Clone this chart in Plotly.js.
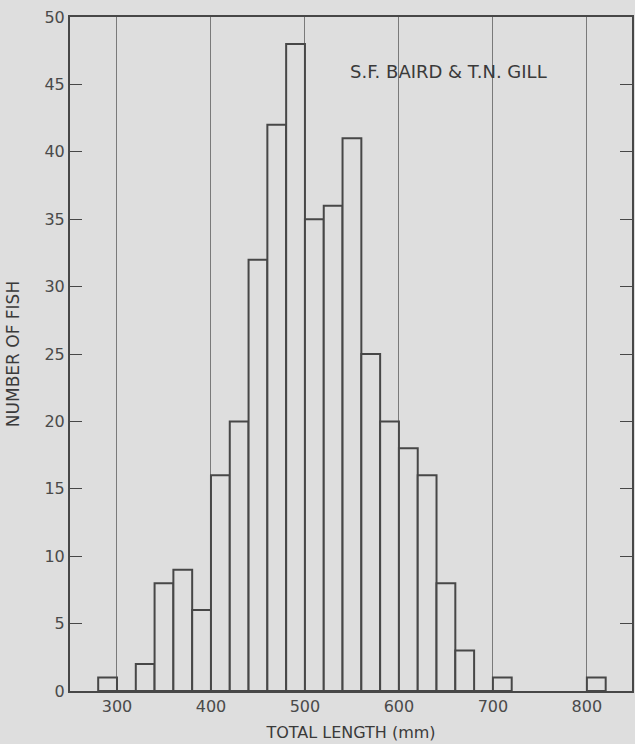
<!DOCTYPE html>
<html>
<head>
<meta charset="utf-8">
<script src="https://cdn.plot.ly/plotly-3.0.1.min.js"></script>
<style>html,body{margin:0;padding:0;background:#dedede;}#chart{width:635px;height:744px;}</style>
</head>
<body>
<div id="chart"></div>
<script>
// Bin starts (mm) and counts, bins 20 mm wide
const binStart = [280, 300, 320, 340, 360, 380, 400, 420, 440, 460, 480, 500, 520, 540, 560, 580, 600, 620, 640, 660, 680, 700, 800];
const counts   = [1,   0,   2,   8,   9,   6,   16,  20,  32,  42,  48,  35,  36,  41,  25,  20,  18,  16,  8,   3,   0,   1,   1];
const binWidth = 20;
const xTicks = [300, 400, 500, 600, 700, 800];
const yTicks = [0, 5, 10, 15, 20, 25, 30, 35, 40, 45, 50];
const label = "S.F. BAIRD & T.N. GILL";

const bg = '#dedede';
const ink = '#474747';
const font = 'DejaVu Sans, sans-serif';

const trace = {
  type: 'bar',
  x: binStart,
  y: counts,
  width: binWidth,
  offset: 0,
  marker: {color: bg, line: {color: ink, width: 2}},
  hoverinfo: 'skip'
};

const layout = {
  width: 635, height: 744,
  margin: {l: 70, r: 3, t: 17, b: 53},
  paper_bgcolor: bg,
  plot_bgcolor: bg,
  showlegend: false,
  font: {family: font, color: '#4a4a4a', size: 14},
  xaxis: {
    range: [250, 848],
    tickvals: xTicks,
    ticks: '',
    showgrid: true, gridcolor: '#7a7a7a', gridwidth: 1,
    zeroline: false,
    showline: true, linecolor: ink, linewidth: 2, mirror: true,
    tickfont: {size: 16, family: font, color: '#4a4a4a'},
    title: {text: 'TOTAL LENGTH (mm)', font: {size: 16, family: font, color: '#3a3a3a'}, standoff: 12},
    automargin: false
  },
  yaxis: {
    range: [0, 50],
    tickvals: yTicks,
    ticks: 'inside', ticklen: 12, tickcolor: ink, tickwidth: 1,
    showgrid: false, zeroline: false,
    showline: true, linecolor: ink, linewidth: 2, mirror: 'ticks',
    tickfont: {size: 16, family: font, color: '#4a4a4a'},
    title: {text: 'NUMBER OF FISH', font: {size: 17, family: font, color: '#3a3a3a'}, standoff: 20},
    automargin: false
  },
  annotations: [{
    text: label, x: 653, y: 45.95, xref: 'x', yref: 'y',
    showarrow: false, xanchor: 'center', yanchor: 'middle',
    font: {size: 18, family: font, color: '#3a3a3a'}
  }]
};

Plotly.newPlot('chart', [trace], layout, {displayModeBar: false, staticPlot: true});
</script>
</body>
</html>
